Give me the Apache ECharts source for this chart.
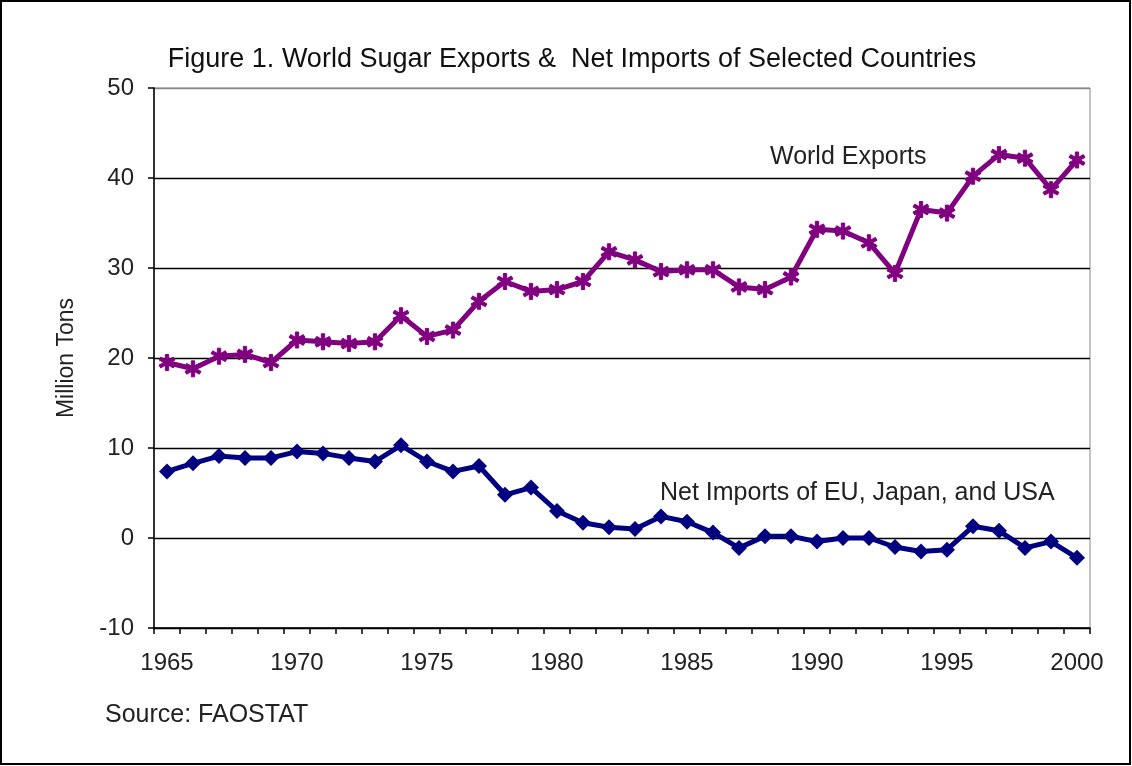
<!DOCTYPE html>
<html><head><meta charset="utf-8">
<script src="https://cdn.jsdelivr.net/npm/echarts@6/dist/echarts.min.js"></script>
<style>html,body{margin:0;padding:0;background:#fff}#c{width:1132px;height:766px}</style>
</head><body><div id="c"></div>
<script>
const years = [];
for (let y = 1965; y <= 2000; y++) years.push(String(y));
const worldExports = [19.5,18.8,20.2,20.4,19.5,22.0,21.8,21.6,21.8,24.7,22.4,23.1,26.3,28.5,27.4,27.6,28.5,31.8,30.9,29.6,29.8,29.8,27.9,27.6,29.0,34.3,34.1,32.8,29.4,36.5,36.1,40.2,42.6,42.2,38.7,42.0];
const netImports = [7.4,8.3,9.1,8.9,8.9,9.6,9.4,8.9,8.5,10.3,8.5,7.4,8.0,4.8,5.6,3.0,1.7,1.2,1.0,2.4,1.8,0.6,-1.1,0.2,0.2,-0.4,0.0,0.0,-1.0,-1.5,-1.3,1.3,0.8,-1.1,-0.4,-2.2];
const yTicks = [-10,0,10,20,30,40,50];

const asterisk = 'path://M-1.2,-6L1.2,-6L1.2,6L-1.2,6Z M4.596,-4.039L5.796,-1.961L-4.596,4.039L-5.796,1.961Z M-5.796,-1.961L-4.596,-4.039L5.796,1.961L4.596,4.039Z';
const FONT = '"Liberation Sans", Arial, sans-serif';

const chart = echarts.init(document.getElementById('c'), null, {renderer:'canvas'});
chart.setOption({
  animation:false,
  backgroundColor:'#fff',
  textStyle:{fontFamily:FONT},
  title:{
    text:'Figure 1. World Sugar Exports &  Net Imports of Selected Countries',
    left:567, top:41, textAlign:'center',
    textStyle:{fontFamily:FONT, fontSize:27, fontWeight:'normal', color:'#111'}
  },
  grid:{left:154, right:42, top:88, bottom:138, show:true, borderColor:'#888', borderWidth:1},
  xAxis:{
    type:'category', data:years, boundaryGap:true,
    axisLine:{onZero:false, lineStyle:{color:'#000', width:1.5}},
    axisTick:{show:true, interval:0, length:6, lineStyle:{color:'#000', width:1.5}},
    axisLabel:{interval:4, fontSize:24, color:'#222', margin:23, fontFamily:FONT}
  },
  yAxis:{
    type:'value', min:yTicks[0], max:yTicks[yTicks.length-1], interval:10,
    name:'Million Tons', nameLocation:'middle', nameGap:76,
    nameTextStyle:{fontSize:23, color:'#222', fontFamily:FONT},
    axisLine:{show:true, lineStyle:{color:'#000', width:1.5}},
    axisTick:{show:true, length:6, lineStyle:{color:'#000', width:1.5}},
    axisLabel:{fontSize:24, color:'#222', margin:20, fontFamily:FONT},
    splitLine:{show:true, lineStyle:{color:['#000','#000','#000','#000','#000','#000','#888'], width:1.3}}
  },
  series:[
    {name:'World Exports', type:'line', data:worldExports,
     symbol:asterisk, symbolSize:16,
     itemStyle:{color:'#800080', borderColor:'#800080', borderWidth:1},
     lineStyle:{color:'#800080', width:5}},
    {name:'Net Imports of EU, Japan, and USA', type:'line', data:netImports,
     symbol:'diamond', symbolSize:16,
     itemStyle:{color:'#000080'},
     lineStyle:{color:'#000080', width:5}}
  ],
  graphic:[
    {type:'text', left:770, top:145, style:{text:'World Exports', font:'25px '+FONT, fill:'#222'}},
    {type:'text', left:660, top:481, style:{text:'Net Imports of EU, Japan, and USA', font:'25px '+FONT, fill:'#222'}},
    {type:'text', left:105, top:703, style:{text:'Source: FAOSTAT', font:'25px '+FONT, fill:'#222'}},
    {type:'rect', shape:{x:1, y:1, width:1129, height:763}, style:{fill:'none', stroke:'#000', lineWidth:2}, silent:true}
  ]
});
</script></body></html>
